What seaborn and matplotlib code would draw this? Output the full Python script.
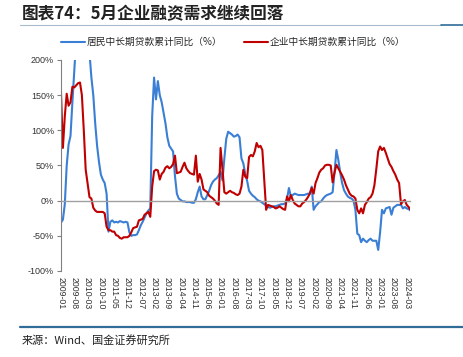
import numpy as np
import pandas as pd
import matplotlib.pyplot as plt
import seaborn as sns
from matplotlib.lines import Line2D

# monthly, 2009-01 .. 2024-05
months = pd.date_range("2009-01-01", "2024-05-01", freq="MS")

household_yoy = [
    -31, -27, -5, 50, 80, 92, 140, 185, 230, 260, 280, 290,
    280, 260, 235, 210, 175, 150, 110, 78, 55, 37, 30, 25,
    10, -44, -30, -28, -31, -30, -31, -29, -30, -31, -30, -31,
    -45, -50, -49, -49, -48, -42, -35, -30, -24, -18, -14, -11,
    120, 175, 144, 170, 150, 140, 125, 110, 90, 78, 74, 70,
    35, 10, 3, 1, -1, -1, -2, -2, -2, -3, -3, 2,
    12, 20, 6, 2, 2, 8, 14, 22, 27, 30, 32, 36,
    41, 29, 60, 88, 98, 96, 94, 91, 92, 94, 90, 60,
    53, 38, 28, 14, 10, 7, 5, 2, 0, -1, -3, -5,
    -7, -9, -10, -9, -8, -8, -7, -6, -5, -5, -4, 3,
    18, 6, 8, 10, 9, 8, 8, 8, 8, 9, 10, 10,
    20, -13, -8, -5, -2, -1, 3, 6, 8, 9, 10, 12,
    40, 72, 58, 40, 25, 15, 10, 6, 4, 3, 0, -13,
    -47, -49, -59, -54, -57, -59, -56, -54, -57, -57, -57, -70,
    -45, -13, -18, -11, -10, -9, -20, -10, -8, -6, -6, -6,
    -11, -9, -11, -12, -14,
]

corporate_yoy = [
    153, 75, 120, 152, 135, 140, 162, 161, 164, 167, 168, 150,
    100, 44, 25, 5, 3, -10, -14, -16, -16, -16, -16, -18,
    -37, -42, -42, -44, -44, -49, -50, -53, -54, -52, -52, -52,
    -50, -45, -39, -38, -37, -28, -27, -26, -20, -18, -16, -23,
    20, 42, 44, 43, 30, 38, 41, 47, 49, 46, 48, 52,
    64, 39, 40, 41, 48, 54, 46, 42, 39, 38, 37, 64,
    27, 38, 30, 16, 14, 12, 7, 5, 3, 0, -4, -6,
    75, 45, 12, 10, 12, 14, 12, 11, 9, 8, 10, 20,
    44, 34, 32, 62, 65, 63, 70, 82, 76, 78, 72, 30,
    -13, -6, -7, -8, -9, -11, -10, -8, -10, -12, -13, 6,
    -1, 8, 1, -4, -6, -8, -8, -4, -2, 1, 5, 10,
    18, 10, 25, 32, 40, 44, 46, 50, 51, 51, 50, 26,
    40, 51, 46, 41, 36, 30, 22, 16, 10, 7, 6, 3,
    -13, -18, -11, -18, -6, -2, 3, 5, 10, 22, 45, 70,
    77, 72, 75, 68, 60, 52, 48, 42, 37, 30, 25, -5,
    -1, 1, -6, -9, -13,
]

label_hh = "居民中长期贷款累计同比（%）"
label_corp = "企业中长期贷款累计同比（%）"
y_ticks = [-100, -50, 0, 50, 100, 150, 200]

sns.set_style("white")
plt.rcParams["font.family"] = ["Noto Sans CJK SC", "DejaVu Sans"]

df = pd.DataFrame({"idx": np.arange(len(months)), label_hh: household_yoy, label_corp: corporate_yoy})
long = df.melt(id_vars="idx", var_name="series", value_name="yoy")

fig = plt.figure(figsize=(4.64, 3.57), dpi=100)
ax = fig.add_axes([61 / 464, 1 - 271 / 357, 349.5 / 464, 211 / 357])

sns.lineplot(data=long, x="idx", y="yoy", hue="series", hue_order=[label_hh, label_corp],
             palette=["#3a7fd5", "#c00000"], linewidth=1.5, ax=ax, legend=False)

ax.set_xlim(0, len(months) - 1)
ax.set_ylim(-100, 200)
ax.set_xlabel("")
ax.set_ylabel("")

ax.legend(handles=ax.get_lines()[:2], labels=[label_hh, label_corp], ncol=2, frameon=False,
          loc="center", bbox_to_anchor=(233 / 464, 1 - 42 / 357), bbox_transform=fig.transFigure,
          fontsize=7, handlelength=2.5, handletextpad=0.15, columnspacing=2.2)

for s in ["top", "right"]:
    ax.spines[s].set_visible(False)
ax.spines["left"].set_color("#808080")
ax.spines["left"].set_linewidth(0.8)
ax.spines["bottom"].set_position(("data", 0))
ax.spines["bottom"].set_color("#a0a0a0")
ax.spines["bottom"].set_linewidth(1.0)

tick_pos = list(range(0, len(months), 7))
ax.set_xticks(tick_pos)
ax.tick_params(axis="x", direction="in", length=3, color="#808080", labelbottom=False)

ax.set_yticks(y_ticks)
ax.set_yticklabels([f"{v}%" for v in y_ticks], fontsize=6.5, color="#333333", family="Liberation Sans")
ax.tick_params(axis="y", direction="out", length=3, color="#808080", left=True, pad=2)

sec = ax.secondary_xaxis("bottom")
sec.set_xticks(tick_pos)
sec.set_xticklabels([months[i].strftime("%Y-%m") for i in tick_pos], rotation=-90,
                    fontsize=6.3, color="#333333", family="Liberation Sans")
sec.tick_params(length=0, pad=4)
sec.spines["bottom"].set_visible(False)

fig.text(22 / 464, 1 - 14 / 357, "图表74：5月企业融资需求继续回落", fontsize=12,
         fontweight="bold", color="#222222", va="center", ha="left")
fig.add_artist(Line2D([20 / 464, 441 / 464], [1 - 24.5 / 357] * 2, color="#a9bccd", lw=0.8))
fig.add_artist(Line2D([441 / 464, 1], [1 - 24.5 / 357] * 2, color="#2f6c98", lw=1.2))
fig.add_artist(Line2D([20 / 464, 1], [1 - 327 / 357] * 2, color="#2f6c98", lw=1.6))
fig.text(22 / 464, 1 - 340 / 357, "来源：Wind、国金证券研究所", fontsize=8, color="#222222",
         va="center", ha="left")

fig.savefig("out.png", dpi=100)
